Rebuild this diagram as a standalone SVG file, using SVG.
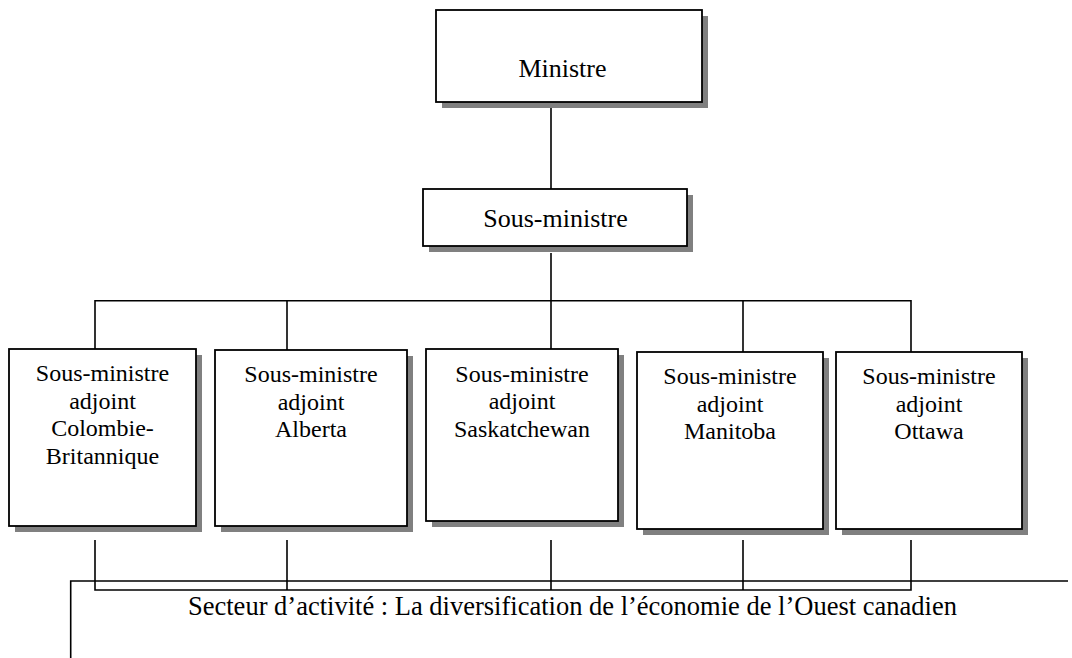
<svg xmlns="http://www.w3.org/2000/svg" width="1072" height="658" viewBox="0 0 1072 658">
<style>
.box{fill:#fff;stroke:#000;stroke-width:1.8}
.sh{fill:#808080}
text{font-family:"Liberation Serif","Times New Roman",serif;fill:#000}
.c{stroke:#000;stroke-width:1.6;fill:none}
</style>
<rect width="1072" height="658" fill="#fff"/>
<g id="connectors">
<line class="c" x1="551" y1="108" x2="551" y2="189"/>
<line class="c" x1="551" y1="253" x2="551" y2="349"/>
<polyline class="c" points="95,349 95,300.7 911,300.7 911,352"/>
<line class="c" x1="287" y1="300.7" x2="287" y2="350"/>
<line class="c" x1="743" y1="300.7" x2="743" y2="352"/>
<polyline class="c" points="95,540 95,590 911,590 911,540"/>
<line class="c" x1="287" y1="540" x2="287" y2="590"/>
<line class="c" x1="551" y1="540" x2="551" y2="590"/>
<line class="c" x1="743" y1="540" x2="743" y2="590"/>
<polyline class="c" points="1068,581 70.7,581 70.7,658"/>
</g>
<g id="ministre" font-family="Liberation Serif, Times New Roman, serif" font-size="26" text-anchor="middle">
<rect class="sh" x="442" y="16" width="266" height="92"/>
<rect class="box" x="436" y="10" width="266" height="92"/>
<text x="562.5" y="77">Ministre</text>
</g>
<g id="sous-ministre" font-family="Liberation Serif, Times New Roman, serif" font-size="26" text-anchor="middle">
<rect class="sh" x="429" y="195" width="264" height="57"/>
<rect class="box" x="423" y="189" width="264" height="57"/>
<text x="555.5" y="227">Sous-ministre</text>
</g>
<g id="sma-cb" font-family="Liberation Serif, Times New Roman, serif" font-size="24" text-anchor="middle">
<rect class="sh" x="15" y="355" width="187" height="177"/>
<rect class="box" x="9" y="349" width="187" height="177"/>
<text x="102.5" y="381">Sous-ministre</text>
<text x="102.5" y="408.5">adjoint</text>
<text x="102.5" y="436">Colombie-</text>
<text x="102.5" y="463.5">Britannique</text>
</g>
<g id="sma-alberta" font-family="Liberation Serif, Times New Roman, serif" font-size="24" text-anchor="middle">
<rect class="sh" x="221" y="356" width="192" height="176"/>
<rect class="box" x="215" y="350" width="192" height="176"/>
<text x="311" y="382">Sous-ministre</text>
<text x="311" y="409.5">adjoint</text>
<text x="311" y="437">Alberta</text>
</g>
<g id="sma-saskatchewan" font-family="Liberation Serif, Times New Roman, serif" font-size="24" text-anchor="middle">
<rect class="sh" x="432" y="355" width="192" height="172"/>
<rect class="box" x="426" y="349" width="192" height="172"/>
<text x="522" y="381.5">Sous-ministre</text>
<text x="522" y="409">adjoint</text>
<text x="522" y="436.5">Saskatchewan</text>
</g>
<g id="sma-manitoba" font-family="Liberation Serif, Times New Roman, serif" font-size="24" text-anchor="middle">
<rect class="sh" x="643" y="358" width="186" height="177"/>
<rect class="box" x="637" y="352" width="186" height="177"/>
<text x="730" y="384">Sous-ministre</text>
<text x="730" y="411.5">adjoint</text>
<text x="730" y="439">Manitoba</text>
</g>
<g id="sma-ottawa" font-family="Liberation Serif, Times New Roman, serif" font-size="24" text-anchor="middle">
<rect class="sh" x="842" y="358" width="186" height="177"/>
<rect class="box" x="836" y="352" width="186" height="177"/>
<text x="929" y="384">Sous-ministre</text>
<text x="929" y="411.5">adjoint</text>
<text x="929" y="439">Ottawa</text>
</g>
<g id="secteur" font-family="Liberation Serif, Times New Roman, serif" font-size="26.5">
<text x="188" y="615">Secteur d’activité : La diversification de l’économie de l’Ouest canadien</text>
</g>
</svg>
